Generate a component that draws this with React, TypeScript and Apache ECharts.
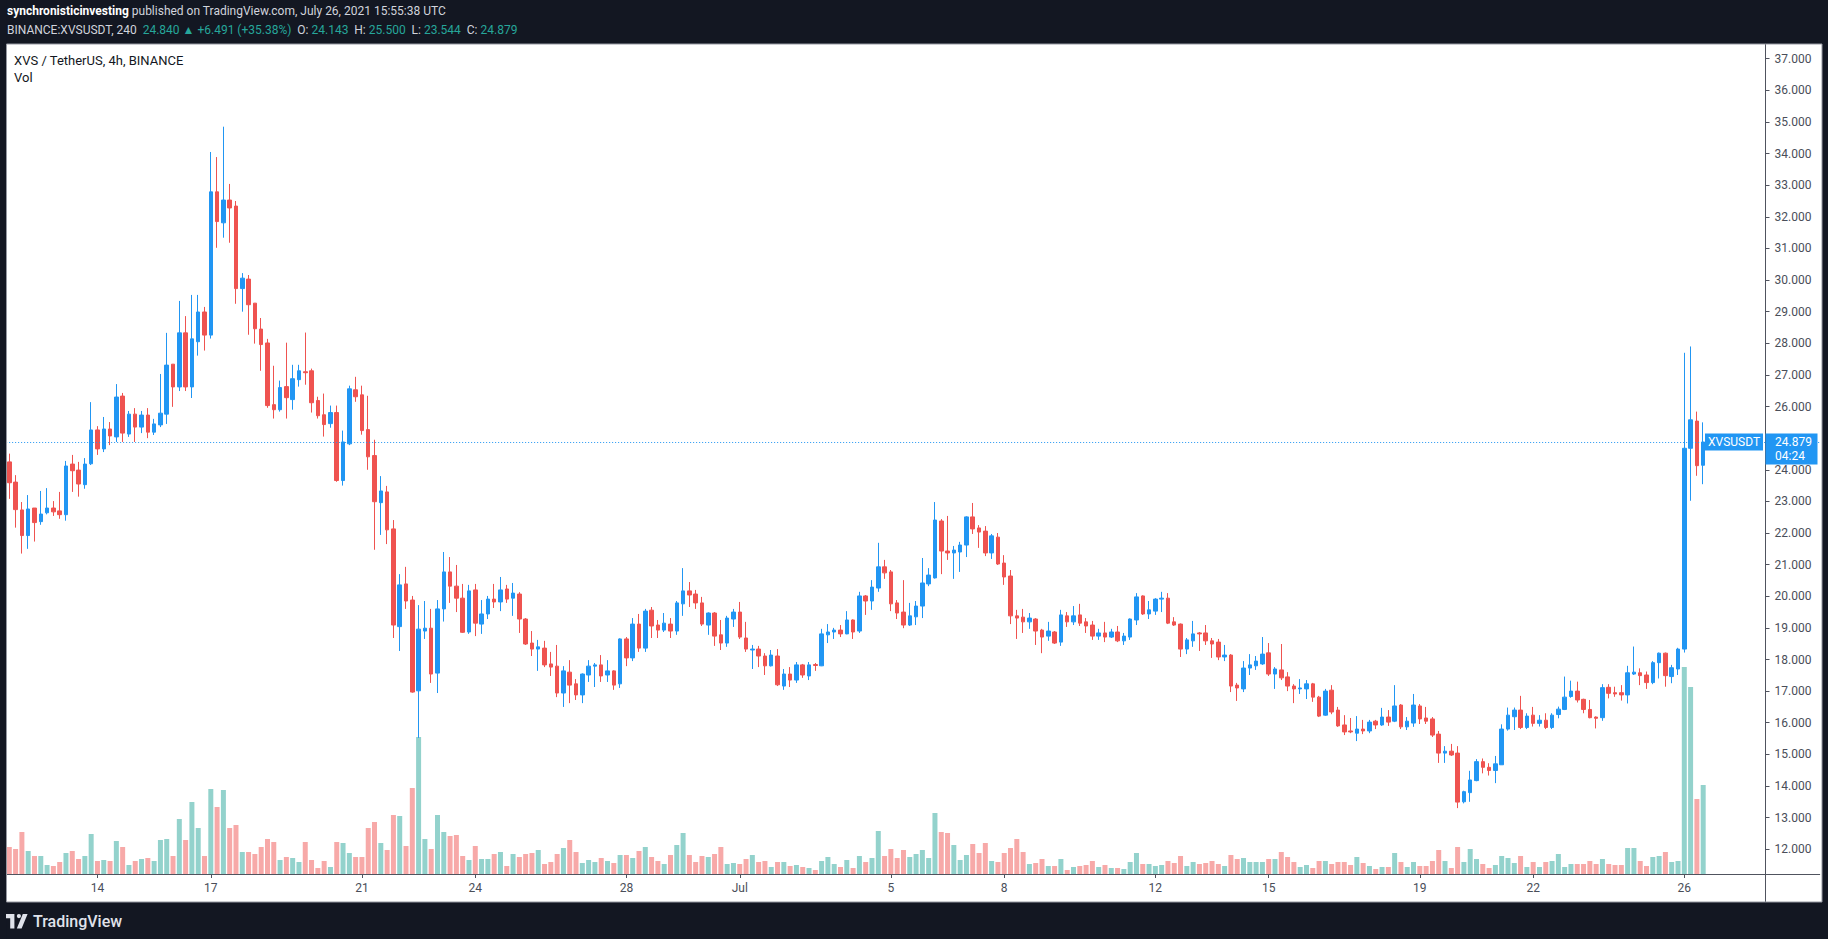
import React, { useEffect, useRef } from 'react';
import * as echarts from 'echarts';

// ---------- data ----------
const firstBarUTC = Date.UTC(2021, 5, 11, 16, 0, 0); // first 4h candle
const barHours = 4;
const axisSlots = 288; // 270 candles + empty space on the right

// [open, high, low, close]
const ohlcJun11to18 = [
  [24.25,24.51,23.08,23.59],[23.61,23.83,22.17,22.74],[22.73,22.98,21.35,21.92],[21.92,23.20,21.50,22.76],
  [22.79,22.79,21.73,22.33],[22.36,23.33,22.26,22.60],[22.64,23.42,22.59,22.79],[22.79,23.01,22.54,22.67],
  [22.70,23.30,22.45,22.58],[22.58,24.28,22.39,24.12],[24.18,24.47,23.30,23.97],[23.99,24.25,23.15,23.55],
  [23.53,24.37,23.40,24.18],[24.19,26.14,24.15,25.26],[25.26,25.38,24.47,24.66],[24.66,25.67,24.56,25.29],
  [25.29,25.51,24.78,25.07],[25.04,26.71,24.88,26.30],[26.33,26.43,24.88,25.16],[25.13,25.86,25.04,25.76],
  [25.76,25.95,24.88,25.35],[25.35,25.86,25.16,25.73],[25.73,25.95,25.00,25.19],[25.19,25.61,25.10,25.45],
  [25.42,27.03,25.35,25.79],[25.76,28.33,25.45,27.31],[27.34,27.34,25.99,26.62],[26.62,29.34,26.49,28.33],
  [28.33,28.86,26.49,26.62],[26.62,29.53,26.27,28.14],[28.05,29.53,27.61,28.99],[28.99,29.15,27.77,28.26],
  [28.26,34.05,28.15,32.79],[32.79,33.89,31.02,31.85],[31.81,34.85,31.34,32.53],[32.53,33.04,31.18,32.28],
  [32.34,32.50,29.25,29.73],[29.73,30.22,29.00,30.06],[30.03,30.16,28.27,29.22],[29.27,29.27,27.99,28.46],
  [28.45,28.80,27.13,27.96],[28.01,28.14,25.96,26.03],[26.06,27.29,25.62,25.90],[25.90,26.82,25.84,26.60],
];
const ohlcJun19to25 = [
  [26.63,28.02,25.62,26.28],[26.22,27.32,25.90,26.88],[26.85,27.32,26.63,27.13],[27.10,28.34,26.69,27.07],
  [27.13,27.20,25.81,26.12],[26.19,26.31,25.62,25.71],[25.74,26.41,25.05,25.43],[25.46,26.03,25.33,25.81],
  [25.81,26.03,23.62,23.66],[23.66,25.24,23.50,24.88],[24.82,26.66,24.78,26.56],[26.53,26.94,26.15,26.31],
  [26.37,26.66,25.11,25.24],[25.27,26.34,24.00,24.41],[24.45,24.95,21.47,22.99],[22.96,23.80,21.94,23.33],
  [23.30,23.49,21.65,22.10],[22.13,22.41,18.68,19.09],[19.04,20.70,18.27,20.36],[20.39,20.93,19.60,19.85],
  [19.88,20.01,16.95,16.97],[17.01,19.72,15.52,18.96],[18.90,19.85,18.65,18.99],[18.99,19.60,17.26,17.54],
  [17.57,19.88,16.94,19.60],[19.60,21.40,19.20,20.77],[20.77,21.24,19.79,20.32],[20.32,20.99,19.50,19.94],
  [19.94,20.39,18.84,18.86],[18.87,20.36,18.81,20.17],[20.20,20.39,18.74,19.15],[19.12,19.88,18.81,19.44],
  [19.44,20.01,19.28,19.91],[19.91,20.39,19.63,19.82],[19.82,20.61,19.53,20.20],[20.23,20.36,19.79,19.91],
  [19.94,20.42,19.38,20.10],[20.07,20.13,18.84,19.28],[19.28,19.31,18.46,18.49],[18.52,18.90,18.11,18.33],
  [18.33,18.62,17.64,18.40],[18.36,18.59,17.76,17.83],
];
const ohlcJun26toJul2 = [
  [17.86,18.24,17.48,17.76],[17.79,18.46,16.81,16.94],[16.94,17.79,16.50,17.64],[17.60,17.98,16.62,17.19],
  [17.23,17.38,16.72,16.88],[16.88,17.56,16.62,17.54],[17.51,17.98,17.29,17.79],[17.79,17.89,17.13,17.83],
  [17.83,18.14,17.29,17.48],[17.51,17.98,17.29,17.64],[17.64,17.66,17.04,17.19],[17.23,18.67,17.10,18.65],
  [18.65,18.71,17.79,18.05],[18.05,19.31,17.95,19.12],[19.12,19.44,18.24,18.36],[18.36,19.60,18.24,19.53],
  [19.56,19.66,18.68,19.06],[19.09,19.25,18.68,18.93],[18.93,19.47,18.87,19.15],[19.12,19.31,18.68,18.90],
  [18.90,19.85,18.78,19.79],[19.76,20.89,19.38,20.17],[20.17,20.45,19.66,20.04],[20.07,20.20,19.60,19.79],
  [19.79,19.98,19.06,19.12],[19.09,19.49,18.78,19.47],[19.47,19.50,18.43,18.74],[18.78,19.25,18.30,18.52],
  [18.52,19.38,18.40,19.31],[19.28,19.60,19.03,19.50],[19.50,19.82,18.65,18.71],[18.68,19.19,18.24,18.33],
  [18.30,18.46,17.70,18.33],[18.33,18.43,17.76,18.11],[18.11,18.20,17.51,17.80],[17.80,18.30,17.78,18.14],
  [18.11,18.33,17.16,17.20],[17.16,17.70,17.04,17.54],[17.54,17.76,17.13,17.35],[17.35,17.92,17.26,17.83],
  [17.83,17.86,17.42,17.51],[17.48,17.92,17.35,17.83],
];
const ohlcJul3to9 = [
  [17.84,17.89,17.64,17.81],[17.80,18.97,17.79,18.81],[18.78,19.12,18.52,18.87],[18.87,19.00,18.65,18.93],
  [18.93,19.09,18.71,18.81],[18.81,19.53,18.80,19.25],[19.25,19.27,18.65,18.87],[18.90,20.14,18.84,20.01],
  [20.01,20.04,19.41,19.85],[19.85,20.51,19.57,20.29],[20.26,21.69,20.14,20.93],[20.93,21.15,20.55,20.74],
  [20.77,20.83,19.53,19.76],[19.79,19.88,19.28,19.47],[19.50,20.51,18.99,19.09],[19.09,19.79,19.06,19.38],
  [19.35,19.85,19.09,19.69],[19.69,21.21,19.31,20.42],[20.39,20.89,20.32,20.67],[20.58,22.98,20.56,22.41],
  [22.38,22.44,20.70,21.43],[21.43,22.54,21.15,21.37],[21.37,21.59,20.55,21.46],[21.40,21.72,20.77,21.62],
  [21.62,22.53,21.24,22.51],[22.51,22.95,21.97,22.13],[22.16,22.25,21.53,22.03],[22.06,22.22,21.27,21.37],
  [21.37,21.97,21.18,21.91],[21.87,22.00,20.99,21.02],[21.05,21.30,20.36,20.61],[20.64,20.83,19.12,19.38],
  [19.38,19.57,18.65,19.31],[19.34,19.60,18.84,19.19],[19.19,19.47,18.97,19.31],[19.28,19.31,18.46,18.90],
  [18.93,18.97,18.20,18.71],[18.74,19.19,18.59,18.90],[18.87,18.90,18.49,18.52],[18.55,19.57,18.43,19.41],
  [19.38,19.50,19.03,19.19],[19.19,19.69,19.09,19.38],
];
const ohlcJul10to16 = [
  [19.41,19.76,19.06,19.15],[19.19,19.31,18.84,19.06],[19.09,19.22,18.62,18.74],[18.74,18.97,18.62,18.84],
  [18.84,19.19,18.55,18.71],[18.71,18.97,18.68,18.87],[18.87,19.06,18.55,18.59],[18.59,18.84,18.46,18.74],
  [18.71,19.30,18.62,19.28],[19.25,20.10,19.09,19.98],[20.01,20.03,19.41,19.44],[19.44,19.85,19.28,19.57],
  [19.53,19.94,19.41,19.91],[19.91,20.14,19.50,19.94],[19.94,20.10,19.12,19.15],[19.19,19.34,19.06,19.09],
  [19.12,19.14,18.08,18.33],[18.33,18.68,18.17,18.62],[18.59,19.22,18.40,18.81],[18.84,18.87,18.27,18.81],
  [18.84,19.09,18.46,18.59],[18.59,18.68,18.05,18.49],[18.55,18.65,17.98,18.08],[18.08,18.46,17.95,18.14],
  [18.14,18.17,16.97,17.16],[17.19,17.26,16.69,17.10],[17.07,17.95,16.97,17.73],[17.73,18.17,17.51,17.83],
  [17.80,18.11,17.67,17.95],[17.86,18.71,17.83,18.17],[18.21,18.52,17.48,17.54],[17.54,17.76,17.07,17.70],
  [17.67,18.49,17.35,17.42],[17.45,17.60,17.00,17.16],[17.16,17.22,16.62,17.07],[17.07,17.38,16.91,17.10],
  [17.07,17.35,16.75,17.23],[17.23,17.26,16.66,16.81],[16.81,16.85,16.18,16.21],[16.24,17.07,16.22,17.00],
  [17.03,17.19,16.27,16.34],[16.40,16.50,15.87,15.90],
];
const ohlcJul17to23 = [
  [15.93,16.24,15.61,15.71],[15.74,16.15,15.67,15.71],[15.67,16.21,15.42,15.80],[15.80,16.09,15.64,15.74],
  [15.74,16.09,15.67,16.02],[16.05,16.09,15.80,15.93],[15.93,16.47,15.90,16.18],[16.18,16.40,15.90,16.02],
  [16.05,17.19,16.02,16.53],[16.56,16.59,15.80,15.87],[15.87,16.18,15.77,16.05],[15.99,16.91,15.87,16.56],
  [16.53,16.59,15.96,16.12],[16.15,16.50,15.96,16.05],[16.12,16.18,15.55,15.61],[15.64,15.74,14.73,15.04],
  [15.04,15.26,14.73,15.10],[15.10,15.33,14.95,14.98],[15.04,15.26,13.30,13.49],[13.50,13.85,13.45,13.82],
  [13.79,14.48,13.50,14.19],[14.17,14.85,14.15,14.77],[14.77,14.87,14.40,14.59],[14.59,14.72,14.33,14.49],
  [14.49,14.95,14.09,14.70],[14.67,15.95,14.67,15.80],[15.80,16.48,15.75,16.24],[16.19,16.48,15.77,16.40],
  [16.40,16.85,15.80,15.85],[15.85,16.30,15.80,16.21],[16.24,16.50,15.88,15.98],[15.98,16.24,15.88,16.08],
  [16.08,16.30,15.80,15.85],[15.85,16.30,15.80,16.24],[16.26,16.51,16.14,16.43],[16.42,17.46,16.40,16.81],
  [16.83,17.33,16.79,17.00],[17.00,17.30,16.64,16.72],[16.74,16.76,16.30,16.42],[16.42,16.72,16.14,16.16],
  [16.18,16.20,15.82,16.14],[16.16,17.22,16.06,17.11],
];
const ohlcJul24to26 = [
  [17.12,17.22,16.77,16.93],[16.95,17.14,16.82,16.91],[16.95,17.19,16.70,16.88],[16.88,17.80,16.61,17.58],
  [17.54,18.41,17.51,17.60],[17.58,17.72,17.19,17.49],[17.51,17.62,17.07,17.27],[17.27,17.95,17.22,17.90],
  [17.90,18.22,17.40,18.20],[18.20,18.22,17.14,17.49],[17.46,17.83,17.25,17.74],[17.70,18.37,17.51,18.33],
  [18.33,27.70,18.22,24.68],[24.68,27.90,23.02,25.58],[25.54,25.84,23.81,24.13],[24.143,25.5,23.544,24.879],
];

// volume (relative units, thousands)
const volJun11to18 = [27,25,42,23,18,18,9,8,12,21,23,15,18,40,13,14,13,33,27,9,13,15,16,13,34,35,18,55,34,72,46,18,85,67,84,46,49,22,22,20,27,35,32,14];
const volJun19to25 = [17,16,12,32,14,6,13,7,32,31,21,17,17,46,52,31,24,59,58,28,86,137,35,25,59,42,38,39,18,14,28,15,15,20,22,8,20,17,20,21,24,10];
const volJun26toJul2 = [12,20,26,34,22,11,14,12,16,13,11,19,19,16,23,27,17,13,10,19,29,41,19,12,18,17,20,27,10,11,10,15,19,12,13,7,12,12,8,9,7,6];
const volJul3to9 = [4,13,17,10,7,14,6,18,12,16,43,18,25,16,24,17,20,24,16,61,42,41,29,14,19,30,21,31,13,12,21,26,35,22,10,11,15,8,8,15,4,7];
const volJul10to16 = [8,9,13,7,9,6,6,5,12,21,10,10,8,9,13,11,18,8,12,10,11,13,10,8,19,15,16,12,12,12,15,15,22,17,12,7,9,6,13,13,10,12];
const volJul17to23 = [12,9,17,11,8,5,7,7,21,12,7,12,8,8,13,24,13,6,27,12,25,15,10,6,9,18,16,11,18,7,12,7,12,13,20,7,10,10,10,13,10,15];
const volJul24to26 = [10,9,9,26,26,13,8,17,18,22,12,13,207,187,75,89];

const tickDays = ['2021-06-14','2021-06-17','2021-06-21','2021-06-24','2021-06-28','2021-07-01','2021-07-05','2021-07-08','2021-07-12','2021-07-15','2021-07-19','2021-07-22','2021-07-26'];
const tickTexts = ['14','17','21','24','28','Jul','5','8','12','15','19','22','26'];

const priceMin = 10;
const priceMax = 38;
const priceLabelMin = 12;
const priceLabelMax = 37;
const volumeMax = 400;

const lastClose = 24.879;
const countdown = '04:24';
const symbolName = 'XVSUSDT';
const chartTitle = 'XVS / TetherUS, 4h, BINANCE';
const volTitle = 'Vol';
const headerAuthor = 'synchronisticinvesting';
const headerPublished = ' published on TradingView.com, July 26, 2021 15:55:38 UTC';
const headerSymbol = 'BINANCE:XVSUSDT, 240';
const headerChange = '24.840 ▲ +6.491 (+35.38%)';
const headerOHLC = [['O:', '24.143'], ['H:', '25.500'], ['L:', '23.544'], ['C:', '24.879']];

// ---------- style / layout ----------
const W = 1828;
const H = 939;
const UP = '#2196f3';
const DOWN = '#ef5350';
const VOL_UP = '#93d2cc';
const VOL_DOWN = '#f7a9a8';
const AXIS = '#50535e';
const TEXT = '#4a4e59';
const DARK = '#131722';
const FONT = 'Roboto, "Liberation Sans", sans-serif';

const gridLeft = 6.15;
const slotW = 6.297;
const gridWidth = axisSlots * slotW;
const priceTop = 27.1;
const priceHeight = 885.36;
const volTop = 474;
const volHeight = 400;
const axisX = 1765.5;
const yAxisOffset = axisX - (gridLeft + gridWidth);

const logoPath =
  'M0 0H14V24H7V7H0Z M18 3.5A3.5 3.5 0 1 1 25 3.5A3.5 3.5 0 1 1 18 3.5Z M28 0H36L26 24H18Z';
echarts.graphic.registerShape('tvLogo', echarts.graphic.extendPath(logoPath, {}));

function buildOption() {
  const ohlc = [
    ...ohlcJun11to18, ...ohlcJun19to25, ...ohlcJun26toJul2, ...ohlcJul3to9,
    ...ohlcJul10to16, ...ohlcJul17to23, ...ohlcJul24to26,
  ];
  const volumes = [
    ...volJun11to18, ...volJun19to25, ...volJun26toJul2, ...volJul3to9,
    ...volJul10to16, ...volJul17to23, ...volJul24to26,
  ];
  const categories: string[] = [];
  for (let k = 0; k < axisSlots; k++) {
    categories.push(new Date(firstBarUTC + k * barHours * 3600000).toISOString().slice(0, 16));
  }
  const tickMap = new Map<string, string>();
  tickDays.forEach((d, i) => tickMap.set(d + 'T00:00', tickTexts[i]));

  const priceTicks: number[] = [];
  for (let v = priceLabelMin; v <= priceLabelMax; v++) priceTicks.push(v);

  const candleData = ohlc.map(([o, h, l, c]) => [o, c, l, h]);
  const volData = volumes.map((v, i) => ({
    value: v,
    itemStyle: { color: ohlc[i][3] >= ohlc[i][0] ? VOL_UP : VOL_DOWN },
  }));

  return {
    animation: false,
    backgroundColor: '#ffffff',
    textStyle: { fontFamily: FONT },
    grid: [
      { left: gridLeft, width: gridWidth, top: priceTop, height: priceHeight },
      { left: gridLeft, width: gridWidth, top: volTop, height: volHeight },
    ],
    xAxis: [
      { type: 'category', gridIndex: 0, data: categories, show: false },
      {
        type: 'category',
        gridIndex: 1,
        data: categories,
        axisLine: { show: true, lineStyle: { color: AXIS, width: 1 } },
        axisTick: {
          show: true,
          length: 4,
          alignWithLabel: true,
          interval: (_i: number, v: string) => tickMap.has(v),
          lineStyle: { color: AXIS },
        },
        axisLabel: {
          interval: (_i: number, v: string) => tickMap.has(v),
          formatter: (v: string) => tickMap.get(v) ?? '',
          color: TEXT,
          fontSize: 12,
          fontFamily: FONT,
          margin: 8,
        },
        splitLine: { show: false },
      },
    ],
    yAxis: [
      {
        type: 'value',
        gridIndex: 0,
        position: 'right',
        offset: yAxisOffset,
        min: priceMin,
        max: priceMax,
        interval: 1,
        axisLine: { show: true, lineStyle: { color: AXIS, width: 1 } },
        axisTick: { show: true, length: 4, lineStyle: { color: AXIS }, customValues: priceTicks },
        axisLabel: {
          customValues: priceTicks,
          formatter: (v: number) =>
            v >= priceLabelMin && v <= priceLabelMax && Math.abs(v - lastClose) > 0.5 ? v.toFixed(3) : '',
          color: TEXT,
          fontSize: 12,
          fontFamily: FONT,
          margin: 9,
        },
        splitLine: { show: false },
      },
      { type: 'value', gridIndex: 1, min: 0, max: volumeMax, show: false, splitLine: { show: false } },
    ],
    series: [
      {
        type: 'bar',
        name: 'Vol',
        xAxisIndex: 1,
        yAxisIndex: 1,
        data: volData,
        barWidth: 5,
        silent: true,
        z: 1,
      },
      {
        type: 'candlestick',
        name: symbolName,
        xAxisIndex: 0,
        yAxisIndex: 0,
        data: candleData,
        barWidth: 4,
        z: 3,
        itemStyle: {
          color: UP,
          color0: DOWN,
          borderColor: UP,
          borderColor0: DOWN,
          borderWidth: 1,
        },
        markLine: {
          silent: true,
          symbol: ['none', 'none'],
          label: { show: false },
          lineStyle: { color: UP, width: 1, type: [1, 2] },
          data: [{ yAxis: lastClose }],
        },
      },
    ],
  };
}

function buildGraphics(yPx: number) {
  const t = (x: number, y: number, text: string, font: string, fill: string, extra: any = {}) => ({
    type: 'text',
    x,
    y,
    z: 120,
    style: {
      text,
      font,
      fill,
      align: extra.align ?? 'left',
      textAlign: extra.align ?? 'left',
      verticalAlign: 'middle',
      textVerticalAlign: 'middle',
      ...(extra.rich ? { rich: extra.rich } : {}),
    },
  });
  const line2 =
    `{w|${headerSymbol}}  {g|${headerChange}}  ` +
    headerOHLC.map(([k, v]) => `{w|${k}} {g|${v}}`).join('  ');
  return [
    // dark frame
    { type: 'rect', z: 100, shape: { x: 0, y: 0, width: W, height: 44 }, style: { fill: DARK } },
    { type: 'rect', z: 100, shape: { x: 0, y: 902, width: W, height: H - 902 }, style: { fill: DARK } },
    { type: 'rect', z: 100, shape: { x: 0, y: 0, width: 6.5, height: H }, style: { fill: DARK } },
    { type: 'rect', z: 100, shape: { x: 1822, y: 0, width: W - 1822, height: H }, style: { fill: DARK } },
    {
      type: 'rect', z: 101,
      shape: { x: 6.5, y: 44, width: 1815.5, height: 858 },
      style: { fill: 'none', stroke: '#9598a1', lineWidth: 1 },
    },
    // header
    t(7, 11, `{b|${headerAuthor}}${headerPublished}`, `12px ${FONT}`, '#d1d4dc', {
      rich: { b: { fill: '#ffffff', fontWeight: 'bold', fontSize: 12, fontFamily: FONT } },
    }),
    t(7, 30, line2, `12px ${FONT}`, '#d1d4dc', {
      rich: {
        w: { fill: '#d1d4dc', fontSize: 12, fontFamily: FONT },
        g: { fill: '#26a69a', fontSize: 12, fontFamily: FONT },
      },
    }),
    // pane titles
    t(14, 60, chartTitle, `13px ${FONT}`, DARK),
    t(14, 77, volTitle, `13px ${FONT}`, DARK),
    // footer logo
    {
      type: 'tvLogo', z: 120, x: 6, y: 914, scaleX: 0.6, scaleY: 0.6,
      style: { fill: '#e0e3eb' },
    },
    t(33, 921, 'TradingView', `500 16px ${FONT}`, '#e0e3eb'),
    // last price labels
    { type: 'rect', z: 110, shape: { x: 1705, y: yPx - 8.5, width: 58, height: 17 }, style: { fill: UP } },
    t(1734, yPx + 0.5, symbolName, `12px ${FONT}`, '#ffffff', { align: 'center' }),
    { type: 'rect', z: 110, shape: { x: axisX, y: yPx - 8.5, width: 52, height: 31 }, style: { fill: UP } },
    t(1775, yPx + 0.5, lastClose.toFixed(3), `12px ${FONT}`, '#ffffff'),
    t(1775, yPx + 14.5, countdown, `12px ${FONT}`, '#ffffff'),
  ];
}

export default function App() {
  const ref = useRef<HTMLDivElement>(null);
  useEffect(() => {
    if (!ref.current) return;
    const chart = echarts.init(ref.current, undefined, { renderer: 'svg' });
    chart.setOption(buildOption() as any);
    const yPx = chart.convertToPixel({ yAxisIndex: 0 }, lastClose) as number;
    chart.setOption({ graphic: { elements: buildGraphics(yPx) } } as any);
    return () => chart.dispose();
  }, []);
  return (
    <div
      ref={ref}
      style={{ position: 'fixed', left: 0, top: 0, width: W + 'px', height: H + 'px' }}
    />
  );
}
